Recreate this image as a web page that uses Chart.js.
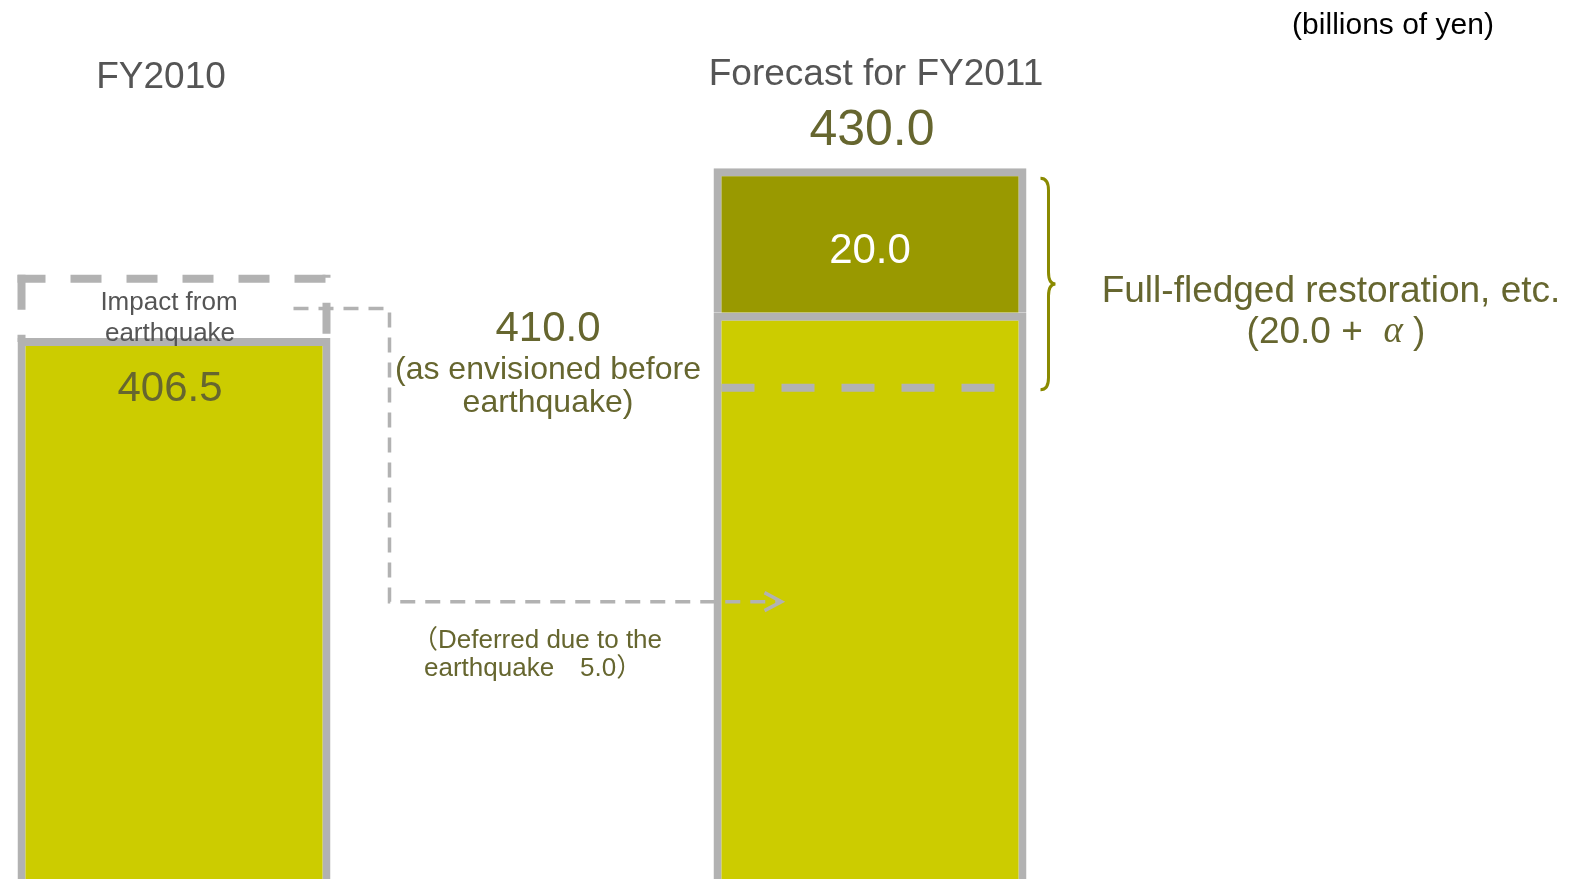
<!DOCTYPE html>
<html>
<head>
<meta charset="utf-8">
<script src="https://cdn.jsdelivr.net/npm/chart.js@4/dist/chart.umd.min.js"></script>
<style>
  html, body { margin: 0; padding: 0; background: #ffffff; }
  #wrap { position: relative; width: 1575px; height: 879px; }
</style>
</head>
<body>
<div id="wrap"><canvas id="c"></canvas></div>
<script>
// ---- data (billions of yen) ----
const categories = ["FY2010", "", "Forecast for FY2011", ""];
const baseValues = [406.5, null, 410.0, null];          // FY2010 result / FY2011 as envisioned before earthquake
const restorationValues = [null, null, 20.0, null];      // full-fledged restoration, etc.
const forecastTotal = [null, null, 430.0, null];
const deferredAmount = [5.0];
// guide levels (value axis units)
const impactBoxTop = [414.7];
const connectorLevel = [410.6];
const arrowLevel = [370.0];
const preQuakeDashLevel = [399.6];
const yRange = [331.6, 453.3];

const GRAY = '#b2b2b2';
const OLIVE_TXT = '#66662f';
const FONT = '"Liberation Sans", Arial, "Noto Sans CJK JP", sans-serif';
const f = (s, extra) => (extra ? extra + ' ' : '') + s + 'px ' + FONT;
const TY = 2.5; // text baseline nudge

const decor = {
  id: 'decor',
  beforeDatasetsDraw(chart) {
    const ctx = chart.ctx;
    const ys = chart.scales.y;
    const b1 = chart.getDatasetMeta(0).data[0].getProps(['x', 'y', 'width'], true);
    const l1 = b1.x - b1.width / 2, r1 = b1.x + b1.width / 2;
    const top = ys.getPixelForValue(impactBoxTop[0]);
    const bottom = b1.y + 4;
    ctx.save();
    ctx.strokeStyle = GRAY; ctx.lineWidth = 8; ctx.lineCap = 'butt';
    ctx.setLineDash([31, 25]); ctx.lineDashOffset = 3;
    ctx.beginPath(); ctx.moveTo(l1, top); ctx.lineTo(r1 - 5, top); ctx.stroke();
    ctx.setLineDash([31, 25]); ctx.lineDashOffset = 28;
    ctx.beginPath(); ctx.moveTo(r1 - 4, top - 4); ctx.lineTo(r1 - 4, bottom); ctx.stroke();
    ctx.setLineDash([35, 25]); ctx.lineDashOffset = 0;
    ctx.beginPath(); ctx.moveTo(l1 + 4, top - 4); ctx.lineTo(l1 + 4, bottom); ctx.stroke();
    ctx.restore();
  },
  afterDatasetsDraw(chart) {
    const ctx = chart.ctx;
    const ys = chart.scales.y;
    const b1 = chart.getDatasetMeta(0).data[0].getProps(['x', 'y', 'width', 'base'], true);
    const b2 = chart.getDatasetMeta(0).data[2].getProps(['x', 'y', 'width', 'base'], true);
    const b2t = chart.getDatasetMeta(1).data[2].getProps(['x', 'y', 'width', 'base'], true);
    const r1 = b1.x + b1.width / 2;
    const l2 = b2.x - b2.width / 2, r2 = b2.x + b2.width / 2;
    ctx.save();
    const dy = ys.getPixelForValue(preQuakeDashLevel[0]);
    ctx.strokeStyle = GRAY; ctx.lineWidth = 8; ctx.setLineDash([33, 27]);
    ctx.beginPath(); ctx.moveTo(l2 + 8, dy); ctx.lineTo(r2 - 23, dy); ctx.stroke();
    const cy = ys.getPixelForValue(connectorLevel[0]);
    const ay = ys.getPixelForValue(arrowLevel[0]);
    const vx = r1 + 59, ax = l2 + 68;
    ctx.lineWidth = 3.5; ctx.setLineDash([15, 10]);
    ctx.beginPath(); ctx.moveTo(r1 - 37, cy); ctx.lineTo(vx, cy); ctx.lineTo(vx, ay); ctx.lineTo(ax - 2, ay); ctx.stroke();
    ctx.setLineDash([]);
    ctx.beginPath(); ctx.moveTo(ax - 17, ay - 9); ctx.lineTo(ax, ay); ctx.lineTo(ax - 17, ay + 9); ctx.stroke();
    const bt = b2t.y + 10, bb = dy + 2, bm = (bt + bb) / 2;
    const bx0 = r2 + 14, bx1 = r2 + 22, bx2 = r2 + 29;
    ctx.strokeStyle = '#8a8a00'; ctx.lineWidth = 3;
    ctx.beginPath();
    ctx.moveTo(bx0, bt);
    ctx.quadraticCurveTo(bx1, bt, bx1, bt + 12);
    ctx.lineTo(bx1, bm - 12);
    ctx.quadraticCurveTo(bx1, bm, bx2, bm);
    ctx.quadraticCurveTo(bx1, bm, bx1, bm + 12);
    ctx.lineTo(bx1, bb - 12);
    ctx.quadraticCurveTo(bx1, bb, bx0, bb);
    ctx.stroke();

    ctx.textAlign = 'center'; ctx.textBaseline = 'middle';
    const txt = (s, x, y, size, color, extra) => { ctx.font = f(size, extra); ctx.fillStyle = color; ctx.fillText(s, x, y + TY); };
    txt('(billions of yen)', 1393, 23, 30, '#000000');
    txt(categories[0], 161, 75, 37, '#555555');
    txt(categories[2], 876, 72, 37, '#555555');
    txt(forecastTotal[2].toFixed(1), b2.x + 2, b2t.y - 40, 50, OLIVE_TXT);
    txt(restorationValues[2].toFixed(1), b2.x, (b2t.y + b2t.base) / 2 + 8, 42, '#ffffff');
    txt(baseValues[0].toFixed(1), b1.x - 4, b1.y + 49, 42, OLIVE_TXT);
    txt('Impact from', 169, 300, 26, '#555555');
    txt('earthquake', 170, 331, 26, '#555555');
    txt(baseValues[2].toFixed(1), 548, ys.getPixelForValue(baseValues[2]) + 14, 42, OLIVE_TXT);
    txt('(as envisioned before', 548, 368, 32, OLIVE_TXT);
    txt('earthquake)', 548, 401, 32, OLIVE_TXT);
    txt('Full-fledged restoration, etc.', 1331, 289, 37, OLIVE_TXT);
    ctx.font = f(37); const p1 = '(20.0 +  ', p3 = ' )';
    const w1 = ctx.measureText(p1).width, w3 = ctx.measureText(p3).width;
    ctx.font = 'italic 37px "Liberation Serif", serif'; const w2 = ctx.measureText('α').width;
    let x0 = 1336 - (w1 + w2 + w3) / 2;
    ctx.textAlign = 'left'; ctx.fillStyle = OLIVE_TXT;
    ctx.font = f(37); ctx.fillText(p1, x0, 330 + TY);
    ctx.font = 'italic 37px "Liberation Serif", serif'; ctx.fillText('α', x0 + w1, 330 + TY);
    ctx.font = f(37); ctx.fillText(p3, x0 + w1 + w2, 330 + TY);
    ctx.font = f(26);
    ctx.fillText('（Deferred due to the', 412, 638 + TY);
    ctx.fillText('earthquake　' + deferredAmount[0].toFixed(1) + '）', 424, 666 + TY);
    ctx.restore();
  }
};

new Chart(document.getElementById('c'), {
  type: 'bar',
  data: {
    labels: categories,
    datasets: [
      { label: 'Base', data: baseValues, backgroundColor: '#cccc00', borderColor: GRAY, borderWidth: 8, borderSkipped: 'start' },
      { label: 'Restoration', data: restorationValues, backgroundColor: '#999900', borderColor: GRAY, borderWidth: 8, borderSkipped: 'start' }
    ]
  },
  options: {
    responsive: true,
    maintainAspectRatio: false,
    animation: false,
    datasets: { bar: { barPercentage: 0.8994, categoryPercentage: 1 } },
    layout: { padding: { left: 0, right: 183, top: 0, bottom: 0 } },
    plugins: { legend: { display: false }, tooltip: { enabled: false }, title: { display: false } },
    scales: {
      x: { stacked: true, display: false, offset: true },
      y: { stacked: true, display: false, min: yRange[0], max: yRange[1] }
    }
  },
  plugins: [decor]
});
</script>
</body>
</html>
